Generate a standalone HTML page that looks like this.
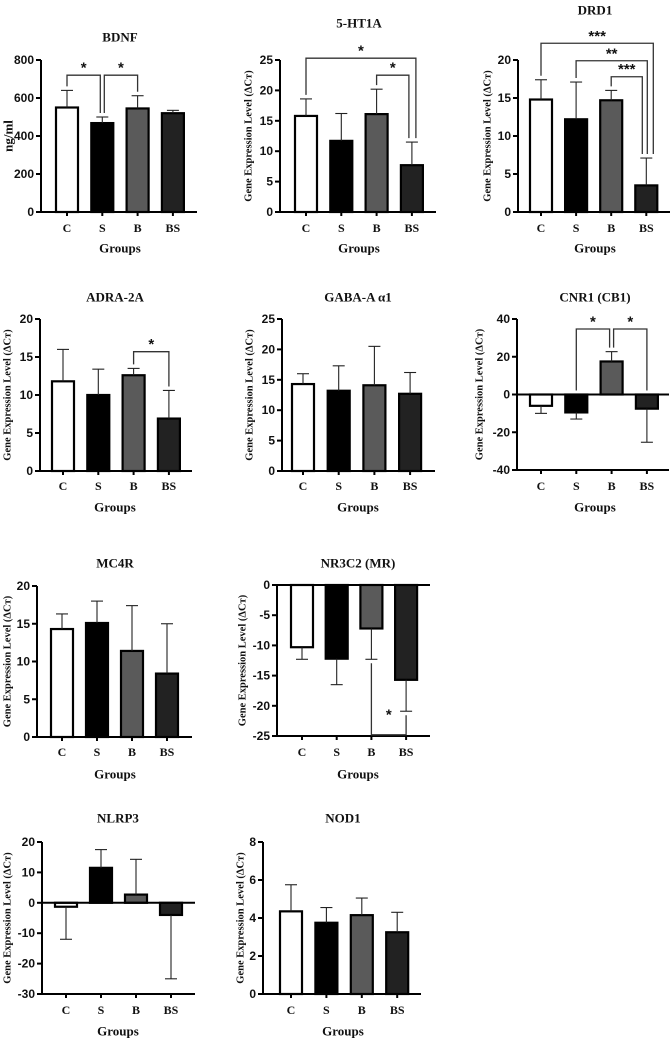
<!DOCTYPE html>
<html><head><meta charset="utf-8"><style>
html,body{margin:0;padding:0;background:#fff;}
svg{display:block;}
.tt{font-family:"Liberation Serif",serif;font-weight:bold;font-size:13px;fill:#111;}
.tk{font-family:"Liberation Sans",sans-serif;font-weight:bold;font-size:12px;fill:#111;}
.ct{font-family:"Liberation Serif",serif;font-weight:bold;font-size:12px;fill:#111;}
.at{font-family:"Liberation Serif",serif;font-weight:bold;font-size:10.5px;fill:#111;}
.st{font-family:"Liberation Sans",sans-serif;font-weight:bold;font-size:15px;fill:#111;}
</style></head><body>
<svg id="fig" width="672" height="1039" viewBox="0 0 672 1039"></svg>
<script>
const categories = ["C","S","B","BS"];
const fills = ["#ffffff","#000000","#5a5a5a","#222222"];
const bdnfValues = [550,468,545,520];
const bdnfErr = [640,500,612,535];
const ht1aValues = [15.8,11.7,16.1,7.7];
const ht1aErr = [18.6,16.2,20.2,11.5];
const drd1Values = [14.8,12.2,14.7,3.5];
const drd1Err = [17.4,17.1,16.0,7.1];
const adraValues = [11.8,10.0,12.6,6.9];
const adraErr = [16.0,13.4,13.5,10.6];
const gabaValues = [14.3,13.2,14.1,12.7];
const gabaErr = [16.0,17.3,20.5,16.2];
const cnr1Values = [-6,-9.5,17.5,-7.5];
const cnr1Err = [-10,-13,22.7,-25.3];
const mc4rValues = [14.3,15.1,11.4,8.4];
const mc4rErr = [16.3,18.0,17.4,15.0];
const nr3c2Values = [-10.3,-12.2,-7.2,-15.7];
const nr3c2Err = [-12.3,-16.5,-12.3,-20.9];
const nlrp3Values = [-1.3,11.5,2.7,-4.0];
const nlrp3Err = [-12,17.5,14.3,-25];
const nod1Values = [4.35,3.75,4.15,3.25];
const nod1Err = [5.75,4.55,5.05,4.3];
const bdnfTicks = [0,200,400,600,800];
const ticks25 = [0,5,10,15,20,25];
const ticks20 = [0,5,10,15,20];
const cnr1Ticks = [-40,-20,0,20,40];
const nr3c2Ticks = [-25,-20,-15,-10,-5,0];
const nlrp3Ticks = [-30,-20,-10,0,10,20];
const nod1Ticks = [0,2,4,6,8];
const bdnfSig = [[0,1,720,"*"],[1,2,720,"*"]];
const ht1aSig = [[0,3,25.3,"*"],[2,3,22.5,"*"]];
const drd1Sig = [[0,3,22.2,"***"],[1,3,19.9,"**"],[2,3,17.8,"***"]];
const adraSig = [[2,3,15.7,"*"]];
const cnr1Sig = [[1,2,34.7,"*"],[2,3,34.7,"*"]];
const nr3c2Sig = [[2,3,-24.8,"*"]];

const NS="http://www.w3.org/2000/svg";
const fig=document.getElementById('fig');
function el(tag,attrs,parent,text){const e=document.createElementNS(NS,tag);for(const k in attrs)e.setAttribute(k,attrs[k]);if(text!==undefined)e.textContent=text;parent.appendChild(e);return e;}

const panels=[
 {key:"bdnf",title:"BDNF",tx:120,ty:37,ox:41,top:60,bot:212,xend:197,b0:67,sp:35.3,ticks:bdnfTicks,vals:bdnfValues,err:bdnfErr,sig:bdnfSig,yt:"ng/ml",ytx:8,gx:120,gy:248,cy:228,leg:[[0,-2],[2,0]]},
 {key:"5-ht1a",title:"5-HT1A",tx:359,ty:23,ox:280,top:60,bot:212,xend:436,b0:306,sp:35.3,ticks:ticks25,vals:ht1aValues,err:ht1aErr,sig:ht1aSig,ytx:249,gx:359,gy:248,cy:228,leg:[[0,4],[0,-3]]},
 {key:"drd1",title:"DRD1",tx:595,ty:10,ox:518,top:60,bot:212,xend:670,b0:541,sp:35.1,ticks:ticks20,vals:drd1Values,err:drd1Err,sig:drd1Sig,ytx:488,gx:595,gy:248,cy:228,leg:[[0,7],[0,1],[0,-4]]},
 {key:"adra-2a",title:"ADRA-2A",tx:115,ty:297,ox:40,top:319,bot:471,xend:192,b0:63,sp:35.3,ticks:ticks20,vals:adraValues,err:adraErr,sig:adraSig,ytx:8,gx:115,gy:507,cy:486,leg:[[0,0]]},
 {key:"gaba-a",title:"GABA-A α1",tx:358,ty:297,ox:282,top:319,bot:471,xend:435,b0:303,sp:35.7,ticks:ticks25,vals:gabaValues,err:gabaErr,sig:[],ytx:250,gx:358,gy:507,cy:486,leg:[]},
 {key:"cnr1",title:"CNR1 (CB1)",tx:595,ty:297,ox:517,top:319,bot:470,xend:669,b0:541,sp:35.3,ticks:cnr1Ticks,vals:cnr1Values,err:cnr1Err,sig:cnr1Sig,ytx:480,gx:595,gy:507,cy:486,leg:[[0,-2],[2,0]]},
 {key:"mc4r",title:"MC4R",tx:115,ty:563,ox:37,top:586,bot:737,xend:192,b0:62,sp:35,ticks:ticks20,vals:mc4rValues,err:mc4rErr,sig:[],ytx:8,gx:115,gy:774,cy:752,leg:[]},
 {key:"nr3c2",title:"NR3C2 (MR)",tx:358,ty:563,ox:277,top:585,bot:736,xend:430,b0:302,sp:34.7,ticks:nr3c2Ticks,vals:nr3c2Values,err:nr3c2Err,sig:nr3c2Sig,ytx:243,gx:358,gy:774,cy:752,leg:[[0,0]]},
 {key:"nlrp3",title:"NLRP3",tx:118,ty:818,ox:42,top:842,bot:994,xend:195,b0:66,sp:35,ticks:nlrp3Ticks,vals:nlrp3Values,err:nlrp3Err,sig:[],ytx:8,gx:118,gy:1031,cy:1010,leg:[]},
 {key:"nod1",title:"NOD1",tx:343,ty:818,ox:263,top:842,bot:994,xend:421,b0:291,sp:35.4,ticks:nod1Ticks,vals:nod1Values,err:nod1Err,sig:[],ytx:241,gx:343,gy:1031,cy:1010,leg:[]}
];

panels.forEach(p=>{
 const g=el('g',{},fig);
 
 
 const mn=p.ticks[0],mx=p.ticks[p.ticks.length-1];
 const y=v=>p.bot-(v-mn)/(mx-mn)*(p.bot-p.top);
 const x=i=>p.b0+i*p.sp;
 const t=el('text',{x:p.tx,y:p.ty,'text-anchor':'middle','dominant-baseline':'central',class:'tt'},g,p.title);
 
 
 p.vals.forEach((v,i)=>{
  const y0=y(0),yv=y(v);
  const r=el('rect',{x:x(i)-11,y:Math.min(y0,yv),width:22,height:Math.abs(yv-y0),fill:fills[i],stroke:'#000','stroke-width':2.2},g);
  
  
  const ye=y(p.err[i]);
  const eg=el('g',{stroke:'#222','stroke-width':1.1},g);
  
  
  el('line',{x1:x(i),x2:x(i),y1:yv,y2:ye},eg);
  el('line',{x1:x(i)-6,x2:x(i)+6,y1:ye,y2:ye},eg);
 });
 const ax=el('g',{stroke:'#000','stroke-width':2,fill:'none'},g);
 
 
 el('line',{x1:p.ox,x2:p.ox,y1:p.top,y2:p.bot+1},ax);
 el('line',{x1:p.ox,x2:p.xend,y1:p.bot,y2:p.bot},ax);
 if(mn<0&&mx>0) el('line',{x1:p.ox,x2:p.xend,y1:y(0),y2:y(0)},ax);
 if(mx===0) el('line',{x1:p.ox,x2:p.xend,y1:p.top,y2:p.top},ax);
 p.ticks.forEach(tv=>{
  el('line',{x1:p.ox-5,x2:p.ox,y1:y(tv),y2:y(tv)},ax);
  const tl=el('text',{x:p.ox-7,y:y(tv),'text-anchor':'end','dominant-baseline':'central',class:'tk'},g,String(tv));
  
  
 });
 categories.forEach((c,i)=>{
  el('line',{x1:x(i),x2:x(i),y1:p.bot,y2:p.bot+4},ax);
  const cl=el('text',{x:x(i),y:p.cy,'text-anchor':'middle','dominant-baseline':'central',class:'ct'},g,c);
  
  
 });
 const gl=el('text',{x:p.gx,y:p.gy,'text-anchor':'middle','dominant-baseline':'central',class:'tt'},g,'Groups');
 
 
 const my=(p.top+p.bot)/2;
 const yt=el('text',{x:p.ytx,y:my,'text-anchor':'middle','dominant-baseline':'central',class:p.yt?'tt':'at',transform:`rotate(-90 ${p.ytx} ${my})`},g,p.yt||'Gene Expression Level (ΔCт)');
 
 
 p.sig.forEach((s,k)=>{
  const [a,b,lv,stars]=s;
  const off=p.leg[k]||[0,0];
  const xa=x(a)+off[0],xb=x(b)+off[1];
  const yb=y(lv);
  const down=lv<0;
  const ea=y(down?Math.min(p.err[a],0):Math.max(p.err[a],0))+(down?4:-4);
  const eb=y(down?Math.min(p.err[b],0):Math.max(p.err[b],0))+(down?4:-4);
  const sg=el('g',{},g);
  
  
  el('polyline',{points:`${xa},${ea} ${xa},${yb} ${xb},${yb} ${xb},${eb}`,fill:'none',stroke:'#333','stroke-width':1.3},sg);
  el('text',{x:(xa+xb)/2,y:down?yb-20:yb-7,'text-anchor':'middle','dominant-baseline':'central',class:'st'},sg,stars);
 });
});
</script>
</body></html>
